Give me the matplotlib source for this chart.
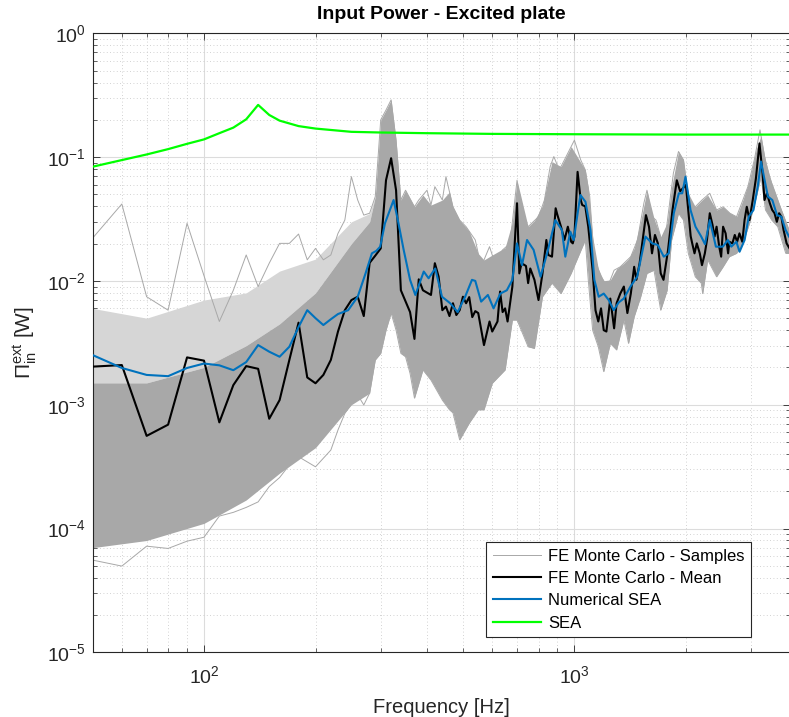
import numpy as np
import matplotlib
matplotlib.use("Agg")
import matplotlib.pyplot as plt
from matplotlib.ticker import LogLocator, NullFormatter

plt.rcParams['font.family'] = ['Liberation Sans', 'DejaVu Sans']
plt.rcParams['mathtext.fontset'] = 'custom'
plt.rcParams['mathtext.rm'] = 'Liberation Sans'
plt.rcParams['mathtext.it'] = 'Liberation Sans:italic'
plt.rcParams['mathtext.bf'] = 'Liberation Sans:bold'

# ---------------- data ----------------
# Monte Carlo sample spread: outer envelope of all samples
env_hi_f = [50, 60, 70, 80, 90, 100, 110, 120, 130, 140, 150, 160, 170, 180, 190, 200, 210, 220, 230, 240,
            250, 260, 270, 280, 290, 300, 310, 320, 330, 340, 350, 370, 380, 400, 410, 420, 440, 450, 470, 490,
            510, 540, 560, 590, 610, 640, 670, 700, 720, 750, 800, 830, 860, 880, 910, 940, 1000, 1040, 1070, 1100,
            1130, 1180, 1230, 1280, 1330, 1420, 1480, 1540, 1570, 1620, 1660, 1720, 1770, 1850, 1910, 1970, 2010,
            2080, 2120, 2210, 2320, 2420, 2520, 2630, 2740, 2850, 2940, 3060, 3170, 3260, 3360, 3490, 3620, 3830]
env_hi_p = [2.21e-2, 4.18e-2, 7.45e-3, 5.8e-3, 2.92e-2, 1.10e-2, 4.7e-3, 8.4e-3, 1.62e-2, 9.0e-3, 1.39e-2,
            2.01e-2, 2.01e-2, 2.39e-2, 1.48e-2, 1.83e-2, 1.48e-2, 1.62e-2, 2.42e-2, 3.1e-2,
            6.95e-2, 4.5e-2, 3.4e-2, 3.52e-2, 4.8e-2, 0.20, 0.24, 0.29, 0.137, 4.5e-2, 5.4e-2, 3.97e-2, 4.5e-2,
            5.4e-2, 4.1e-2, 5.77e-2, 4.5e-2, 6.95e-2, 3.97e-2, 3.1e-2,
            2.74e-2, 2.14e-2, 1.30e-2, 1.89e-2, 1.39e-2, 1.78e-2, 2.01e-2, 6.5e-2, 3.52e-2, 2.74e-2, 3.3e-2,
            4.5e-2, 8.36e-2, 0.101, 7.87e-2, 9.5e-2, 0.137, 9.5e-2, 7.87e-2, 4.8e-2,
            1.57e-2, 1.08e-2, 9.0e-3, 1.22e-2, 1.30e-2, 1.57e-2, 2.14e-2, 4.24e-2, 5.4e-2, 3.3e-2, 3.1e-2,
            2.14e-2, 2.58e-2, 7.4e-2, 0.111, 9.5e-2, 5.77e-2,
            3.74e-2, 3.97e-2, 4.5e-2, 5.1e-2, 3.74e-2, 3.97e-2, 3.52e-2, 3.3e-2, 4.5e-2, 5.77e-2, 9.5e-2, 0.166,
            0.101, 6.95e-2, 5.1e-2, 3.74e-2, 2.42e-2]

env_lo_f = [50, 60, 70, 80, 90, 100, 110, 120, 130, 140, 150, 160, 170, 180, 200, 220, 230, 240, 260, 270,
            280, 290, 300, 310, 320, 330, 340, 350, 360, 370, 390, 410, 440, 460, 470, 490, 520, 550, 570, 600,
            650, 680, 700, 750, 780, 820, 870, 920, 980, 1070, 1090, 1120, 1160, 1200, 1250, 1300, 1360, 1400,
            1450, 1510, 1570, 1640, 1710, 1780, 1830, 1910, 1970, 2030, 2120, 2200, 2220, 2290, 2420, 2520,
            2620, 2740, 2850, 2970, 3100, 3190, 3280, 3410, 3540, 3720, 3830]
env_lo_p = [5.56e-5, 4.97e-5, 7.2e-5, 6.9e-5, 7.9e-5, 8.5e-5, 1.26e-4, 1.35e-4, 1.48e-4, 1.64e-4, 2.18e-4,
            2.58e-4, 3.26e-4, 3.8e-4, 3.15e-4, 4.3e-4, 6.25e-4, 8.5e-4, 1.2e-3, 9.95e-4,
            1.24e-3, 2.3e-3, 2.6e-3, 4.0e-3, 5.5e-3, 4.0e-3, 2.6e-3, 2.44e-3, 1.79e-3, 1.13e-3, 1.91e-3,
            1.58e-3, 1.09e-3, 9.1e-4, 8.6e-4, 5.2e-4, 7.1e-4, 9.1e-4, 9.1e-4, 1.49e-3,
            1.91e-3, 4.83e-3, 4.83e-3, 2.94e-3, 2.85e-3, 7.45e-3, 9.6e-3, 7.9e-3, 1.15e-2, 2.14e-2, 1.02e-2,
            4.0e-3, 2.94e-3, 1.85e-3, 3.13e-3, 2.77e-3, 4.83e-3, 3.13e-3,
            5.14e-3, 7.45e-3, 1.15e-2, 1.22e-2, 5.8e-3, 8.4e-3, 2.14e-2, 3.52e-2, 3.1e-2, 1.67e-2, 1.08e-2,
            9.6e-3, 7.9e-3, 1.48e-2, 1.08e-2, 1.30e-2,
            1.57e-2, 1.67e-2, 2.01e-2, 2.92e-2, 4.8e-2, 6.95e-2, 3.74e-2, 3.1e-2, 2.74e-2, 1.67e-2, 1.67e-2]

# low-frequency sample cloud (below 290 Hz): dense core and the looser band of samples above it
cloud_f = [50, 70, 100, 130, 160, 200, 250, 280, 290]
cloud_core_hi = [1.5e-3, 1.5e-3, 2.0e-3, 3.0e-3, 4.5e-3, 8.0e-3, 2.0e-2, 3.0e-2, 4.8e-2]
cloud_core_lo = [7.0e-5, 8.0e-5, 1.1e-4, 1.7e-4, 2.8e-4, 4.5e-4, 1.0e-3, 1.24e-3, 2.3e-3]
cloud_loose_hi = [6.0e-3, 5.0e-3, 7.0e-3, 8.0e-3, 1.2e-2, 1.5e-2, 3.0e-2, 3.5e-2, 4.8e-2]

# FE Monte Carlo mean
mean_f = [50, 60, 70, 80, 90, 100, 110, 120, 130, 140, 150, 160, 170, 180, 190, 200, 210, 220, 230, 240,
          250, 260, 270, 280, 290, 300, 310, 320, 330, 340, 360, 370, 380, 390, 410, 420, 430, 440, 450, 460,
          470, 480, 490, 500, 510, 520, 530, 540, 550, 570, 590, 600, 620, 630, 640, 650, 660, 680, 690, 700,
          710, 720, 740, 750, 760, 780, 800, 820, 840, 850, 870, 890, 900, 920, 940, 960, 980, 990, 1000, 1020,
          1040, 1050, 1070, 1090, 1120, 1140, 1160, 1180, 1200, 1220, 1250, 1280, 1300, 1330, 1360, 1390,
          1420, 1450, 1470, 1500, 1520, 1560, 1590, 1620, 1650, 1680, 1710, 1740, 1790, 1840, 1890, 1930,
          2000, 2040, 2060, 2080, 2110, 2140, 2180, 2210, 2250, 2280, 2320, 2360, 2390, 2420, 2460, 2490,
          2520, 2560, 2600, 2620, 2670, 2710, 2750, 2790, 2840, 2880, 2920, 2970, 3030, 3090, 3160, 3220,
          3260, 3310, 3370, 3420, 3470, 3520, 3570, 3620, 3670, 3740, 3830]
mean_p = [2.03e-3, 2.09e-3, 5.6e-4, 6.9e-4, 2.41e-3, 2.27e-3, 7.2e-4, 1.44e-3, 2.05e-3, 1.95e-3, 7.7e-4,
          1.09e-3, 2.3e-3, 4.6e-3, 1.66e-3, 1.49e-3, 1.74e-3, 2.3e-3, 3.9e-3, 5.8e-3,
          7.0e-3, 7.45e-3, 5.2e-3, 1.40e-2, 1.6e-2, 1.83e-2, 6.5e-2, 9.8e-2, 5.4e-2, 8.4e-3, 5.6e-3, 3.4e-3,
          1.03e-2, 8.4e-3, 7.7e-3, 1.39e-2, 1.08e-2, 5.8e-3, 6.2e-3, 5.2e-3,
          6.6e-3, 5.3e-3, 5.8e-3, 7.45e-3, 6.6e-3, 7.4e-3, 5.1e-3, 5.7e-3, 5.5e-3, 3.03e-3, 4.7e-3, 3.9e-3,
          4.7e-3, 8.2e-3, 5.6e-3, 6.0e-3, 4.7e-3, 9.0e-3, 2.01e-2, 4.24e-2,
          1.15e-2, 1.39e-2, 1.32e-2, 9.6e-3, 1.26e-2, 1.02e-2, 7.0e-3, 1.15e-2, 2.14e-2, 1.62e-2, 1.57e-2,
          3.86e-2, 3.4e-2, 2.74e-2, 2.14e-2, 2.74e-2, 2.07e-2, 2.01e-2, 2.28e-2, 7.6e-2,
          4.5e-2, 4.1e-2, 4.0e-2, 2.74e-2, 1.22e-2, 5.8e-3, 4.7e-3, 6.0e-3, 4.0e-3, 3.9e-3, 7.2e-3, 4.14e-3,
          6.6e-3, 7.9e-3, 9.0e-3, 5.5e-3,
          7.9e-3, 1.30e-2, 1.02e-2, 1.39e-2, 1.89e-2, 3.4e-2, 2.74e-2, 1.67e-2, 2.35e-2, 2.01e-2, 1.15e-2,
          1.02e-2, 1.78e-2, 3.74e-2, 6.5e-2, 5.3e-2,
          5.95e-2, 3.1e-2, 2.3e-2, 2.01e-2, 1.67e-2, 2.01e-2, 1.67e-2, 1.34e-2, 1.67e-2, 2.14e-2, 3.52e-2,
          2.83e-2, 2.28e-2, 2.74e-2, 1.89e-2, 1.57e-2,
          2.74e-2, 2.42e-2, 1.67e-2, 2.07e-2, 2.01e-2, 2.35e-2, 2.07e-2, 2.42e-2, 2.07e-2, 3.1e-2, 3.97e-2,
          3.1e-2, 4.5e-2, 6.7e-2, 0.129, 7.4e-2,
          4.5e-2, 5.1e-2, 4.24e-2, 3.74e-2, 3.52e-2, 3.0e-2, 3.52e-2, 3.3e-2, 2.58e-2, 2.01e-2, 1.78e-2]

# Numerical SEA
nsea_f = [50, 60, 70, 80, 90, 100, 110, 120, 130, 140, 150, 160, 170, 180, 190, 200, 210, 220, 230, 245,
          260, 273, 284, 292, 299, 308, 325, 335, 346, 360, 372, 382, 392, 404, 421, 439, 462, 484, 507, 529,
          540, 560, 584, 605, 631, 657, 680, 700, 722, 745, 776, 810, 844, 888, 925, 945, 975, 996, 1017,
          1038, 1071, 1105, 1132, 1163, 1200, 1238, 1277, 1317, 1359, 1417, 1477, 1555, 1622, 1679, 1743,
          1798, 1855, 1914, 1955, 1995, 2058, 2123, 2200, 2252, 2320, 2410, 2516, 2596, 2652, 2737, 2792,
          2881, 2956, 3044, 3126, 3190, 3263, 3330, 3422, 3523, 3620, 3717, 3796, 3830]
nsea_p = [2.52e-3, 1.98e-3, 1.74e-3, 1.70e-3, 1.98e-3, 2.15e-3, 2.08e-3, 1.90e-3, 2.21e-3, 3.03e-3, 2.68e-3,
          2.44e-3, 2.94e-3, 4.24e-3, 5.8e-3, 5.0e-3, 4.4e-3, 4.9e-3, 5.4e-3, 5.8e-3,
          7.45e-3, 1.15e-2, 1.67e-2, 1.75e-2, 1.89e-2, 2.92e-2, 4.5e-2, 2.92e-2, 1.78e-2, 1.02e-2, 7.7e-3,
          9.6e-3, 1.19e-2, 1.05e-2, 1.26e-2, 7.45e-3, 6.6e-3, 5.6e-3, 7.45e-3, 1.02e-2,
          1.0e-2, 6.8e-3, 7.7e-3, 6.0e-3, 7.9e-3, 8.4e-3, 1.02e-2, 2.01e-2, 1.34e-2, 2.14e-2, 1.78e-2,
          1.08e-2, 1.67e-2, 3.1e-2, 2.58e-2, 1.57e-2, 2.5e-2, 2.14e-2, 3.3e-2,
          4.94e-2, 4.36e-2, 2.58e-2, 1.02e-2, 7.45e-3, 7.9e-3, 7.0e-3, 5.8e-3, 6.7e-3, 7.2e-3, 9.0e-3,
          1.08e-2, 2.28e-2, 2.01e-2, 1.95e-2, 1.57e-2,
          1.67e-2, 3.52e-2, 5.1e-2, 5.1e-2, 6.95e-2, 3.74e-2, 2.74e-2, 2.28e-2, 1.98e-2, 3.1e-2, 1.89e-2,
          1.89e-2, 2.14e-2, 1.89e-2, 2.07e-2, 1.72e-2,
          2.14e-2, 3.3e-2, 3.74e-2, 5.77e-2, 9.2e-2, 6.5e-2, 4.8e-2, 4.5e-2, 3.4e-2, 3.3e-2, 2.58e-2,
          2.28e-2, 2.2e-2]

# Analytical SEA
sea_f = [50, 60, 70, 80, 90, 100, 110, 120, 130, 140, 150, 160, 180, 200, 250, 300, 400, 600, 1000, 2000, 3830]
sea_p = [0.0836, 0.0946, 0.105, 0.116, 0.128, 0.139, 0.156, 0.173, 0.202, 0.264, 0.219, 0.197, 0.178,
         0.170, 0.160, 0.158, 0.156, 0.154, 0.153, 0.152, 0.152]

legend_labels = ['FE Monte Carlo - Samples', 'FE Monte Carlo - Mean', 'Numerical SEA', 'SEA']

# ---------------- figure ----------------
W, H = 789, 717
fig = plt.figure(figsize=(W / 100, H / 100), dpi=100)
ax = fig.add_axes([92.5 / W, 1 - 652.3 / H, (790 - 92.5) / W, (652.3 - 33.3) / H])

gray = '#a8a8a8'
axis_col = '#262626'

# dense sample cloud: low-frequency core joined to the full spread from 290 Hz up
hf_f = [f for f in env_lo_f if f > 290]
hf_lo = [p for f, p in zip(env_lo_f, env_lo_p) if f > 290]
hf_hi = list(np.exp(np.interp(np.log(hf_f), np.log(env_hi_f), np.log(env_hi_p))))
band_f = cloud_f + hf_f
band_lo = cloud_core_lo + hf_lo
band_hi = cloud_core_hi + hf_hi
ax.fill_between(cloud_f, cloud_core_hi, cloud_loose_hi, color='#d6d6d6', lw=0, zorder=1)
ax.fill_between(band_f, band_lo, band_hi, color=gray, lw=0, zorder=1.5)

l_samp, = ax.plot(env_hi_f, env_hi_p, color=gray, lw=0.7, zorder=2)
ax.plot(env_lo_f, env_lo_p, color=gray, lw=0.7, zorder=2)
l_mean, = ax.plot(mean_f, mean_p, color='black', lw=1.5, zorder=4)
l_nsea, = ax.plot(nsea_f, nsea_p, color='#0072BD', lw=1.5, zorder=5)
l_sea, = ax.plot(sea_f, sea_p, color='#00FF00', lw=1.6, zorder=6)

ax.set_xscale('log')
ax.set_yscale('log')
ax.set_xlim(50, 3820)
ax.set_ylim(1e-5, 1)

ax.yaxis.set_major_locator(LogLocator(base=10, numticks=10))
ax.yaxis.set_minor_locator(LogLocator(base=10, subs=np.arange(2, 10), numticks=20))
ax.yaxis.set_minor_formatter(NullFormatter())
ax.xaxis.set_minor_formatter(NullFormatter())

ax.grid(True, which='major', color='#dcdcdc', lw=0.8, ls='-')
ax.grid(True, which='minor', color='#c4c4c4', lw=0.6, ls=(0, (1, 3)))
ax.set_axisbelow(True)

ax.tick_params(which='both', direction='in', top=True, right=True, colors=axis_col, labelsize=14)
ax.tick_params(axis='x', which='major', pad=9)
ax.tick_params(axis='y', which='major', pad=5)
ax.tick_params(which='major', length=5, width=0.6)
ax.tick_params(which='minor', length=3, width=0.5)
for s in ax.spines.values():
    s.set_color(axis_col)
    s.set_linewidth(0.8)

ax.set_title('Input Power - Excited plate', fontsize=14, fontweight='bold', color='black', pad=10)
ax.set_xlabel('Frequency [Hz]', fontsize=14.5, color=axis_col, labelpad=8)
ax.set_ylabel(r'$\Pi^{\mathrm{ext}}_{\mathrm{in}}$ [W]', fontsize=15, color=axis_col, labelpad=6)

leg = ax.legend([l_samp, l_mean, l_nsea, l_sea], legend_labels, loc='lower right',
                bbox_to_anchor=(751 / W, 1 - 637.3 / H), bbox_transform=fig.transFigure,
                borderaxespad=0, fancybox=False, framealpha=1, edgecolor=axis_col,
                fontsize=12, handlelength=2.9, handletextpad=0.4, labelspacing=0.44,
                borderpad=0.4)
leg.get_frame().set_linewidth(0.8)

fig.savefig('out.png', dpi=100, facecolor='white')
